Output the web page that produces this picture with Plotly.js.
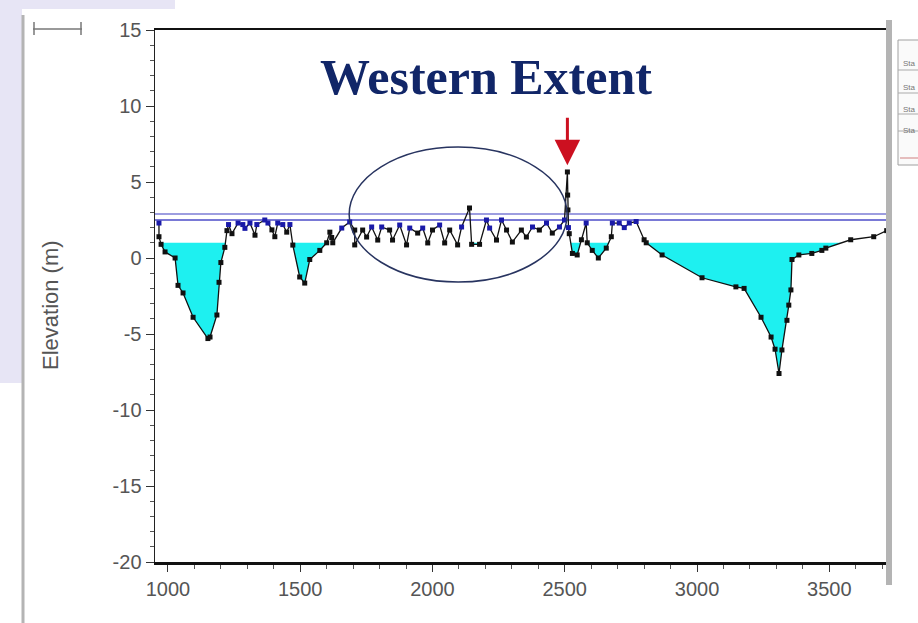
<!DOCTYPE html>
<html>
<head>
<meta charset="utf-8">
<script src="https://cdn.plot.ly/plotly-3.0.1.min.js"></script>
<style>
html,body{margin:0;padding:0;background:#fff;}
#chart{width:918px;height:623px;}
</style>
</head>
<body>
<div id="chart"></div>
<script>
// Station (m) along the profile
const station = [966,966,974,989,1027,1038,1057,1095,1151,1159,1185,1193,1200,1215,1223,1229,1242,1265,1283,1291,1310,1329,1336,1366,1378,1393,1404,1415,1434,1449,1461,1472,1498,1517,1536,1574,1600,1612,1619,1623,1657,1687,1706,1706,1736,1751,1770,1793,1808,1838,1849,1876,1902,1914,1944,1963,1982,2000,2027,2046,2065,2095,2110,2140,2148,2178,2204,2216,2242,2261,2280,2302,2336,2355,2378,2404,2431,2453,2480,2499,2510,2511,2512,2514,2517,2529,2547,2563,2581,2585,2604,2627,2657,2676,2680,2706,2725,2744,2770,2800,2808,2868,3019,3147,3178,3242,3280,3295,3310,3321,3340,3347,3355,3359,3385,3434,3472,3487,3581,3668,3717];
// Elevation (m) of the ground profile
const elevation = [2.3,1.4,0.9,0.4,0.0,-1.8,-2.3,-3.9,-5.3,-5.2,-3.75,-1.6,-0.3,0.7,1.8,2.2,1.6,2.3,2.2,1.95,2.3,1.5,2.2,2.5,2.3,1.85,1.4,2.3,2.2,1.7,2.2,0.85,-1.25,-1.65,-0.1,0.5,1.0,1.7,1.35,1.0,1.97,2.37,1.84,0.86,1.84,1.38,2.04,1.18,2.04,1.84,1.18,2.17,0.86,1.97,1.64,1.97,0.99,1.84,2.17,0.99,1.84,0.86,2.04,3.29,0.9,0.9,2.5,1.97,1.18,2.5,1.84,1.05,1.84,1.38,2.04,1.84,2.3,1.64,2.04,2.5,5.66,4.14,3.16,2.0,1.6,0.3,0.2,1.2,2.3,1.0,0.5,0.0,0.65,1.4,2.3,2.3,2.0,2.3,2.4,1.2,1.0,0.2,-1.3,-1.9,-2.0,-3.9,-5.2,-6.0,-7.6,-6.05,-4.1,-3.1,-2.1,-0.1,0.2,0.3,0.5,0.65,1.2,1.4,1.8];
// Water surface and reference levels
const waterLevel = 1.0;
const refLevels = [2.9, 2.5];
const xTicks = [1000,1500,2000,2500,3000,3500];
const yTicks = [15,10,5,0,-5,-10,-15,-20];

// Build water fill: insert crossing points, clip profile at water level
const fx = [], fy = [];
for (let i = 0; i < station.length; i++) {
  if (i > 0) {
    const y0 = elevation[i-1], y1 = elevation[i];
    if ((y0 - waterLevel) * (y1 - waterLevel) < 0) {
      const t = (waterLevel - y0) / (y1 - y0);
      fx.push(station[i-1] + t * (station[i] - station[i-1]));
      fy.push(waterLevel);
    }
  }
  fx.push(station[i]);
  fy.push(Math.min(elevation[i], waterLevel));
}
const xMin = 951, xMax = 3722;

const traces = [
  {x: fx, y: fx.map(() => waterLevel), mode: 'lines', line: {width: 0}, hoverinfo: 'skip', showlegend: false},
  {x: fx, y: fy, mode: 'lines', line: {width: 0}, fill: 'tonexty', fillcolor: '#1ef0f0', hoverinfo: 'skip', showlegend: false},
  {x: [xMin, xMax], y: [refLevels[0], refLevels[0]], mode: 'lines', line: {color: '#7c7cd6', width: 1.5}, showlegend: false},
  {x: [xMin, xMax], y: [refLevels[1], refLevels[1]], mode: 'lines', line: {color: '#4d4dc8', width: 1.5}, showlegend: false},
  {x: station, y: elevation, mode: 'lines+markers',
   line: {color: '#111', width: 1.3},
   marker: {symbol: 'square', size: 5, color: elevation.map(v => v >= 1.95 && v < 3 ? '#1a1aa8' : '#111')},
   showlegend: false}
];

const L = 155, R = 888, T = 30, B = 562;
const px = v => (v - L) / (R - L);
const py = v => (B - v) / (B - T);

const layout = {
  width: 918, height: 623,
  margin: {l: L, r: 918 - R, t: T, b: 623 - B},
  paper_bgcolor: '#ffffff', plot_bgcolor: '#ffffff',
  font: {family: 'Liberation Sans, Arial, sans-serif', color: '#505050', size: 20},
  xaxis: {
    range: [xMin, xMax], tickvals: xTicks, ticktext: xTicks.map(String),
    showgrid: false, zeroline: false, showline: true, linecolor: '#111', linewidth: 2.5, mirror: true,
    ticks: 'outside', ticklen: 7, tickcolor: '#333', tickwidth: 1,
    minor: {dtick: 100, tick0: 0, ticks: 'outside', ticklen: 4, tickcolor: '#555'},
    tickfont: {size: 20, color: '#555'}
  },
  yaxis: {
    range: [-20, 15], tickvals: yTicks, ticktext: yTicks.map(String),
    showgrid: false, zeroline: false, showline: true, linecolor: '#222', linewidth: 1.5,
    ticks: 'outside', ticklen: 8, tickcolor: '#333', tickwidth: 1,
    minor: {dtick: 1, tick0: 0, ticks: 'outside', ticklen: 4, tickcolor: '#555'},
    tickfont: {size: 20, color: '#555'}
  },
  shapes: [
    // slide background bits
    {type: 'rect', xref: 'paper', yref: 'paper', x0: px(0), x1: px(175), y0: py(0), y1: py(9), fillcolor: '#e7e5f5', line: {width: 0}, layer: 'below'},
    {type: 'rect', xref: 'paper', yref: 'paper', x0: px(0), x1: px(22), y0: py(0), y1: py(383), fillcolor: '#e7e5f5', line: {width: 0}, layer: 'below'},
    {type: 'line', xref: 'paper', yref: 'paper', x0: px(23), x1: px(23), y0: py(15), y1: py(623), line: {color: '#b4b4b4', width: 3}},
    // small scale bar top-left
    {type: 'line', xref: 'paper', yref: 'paper', x0: px(33), x1: px(82), y0: py(29), y1: py(29), line: {color: '#777', width: 1.5}},
    {type: 'line', xref: 'paper', yref: 'paper', x0: px(34), x1: px(34), y0: py(22), y1: py(35), line: {color: '#777', width: 1.5}},
    {type: 'line', xref: 'paper', yref: 'paper', x0: px(81), x1: px(81), y0: py(22), y1: py(35), line: {color: '#777', width: 1.5}},
    // right-hand gray frame and partial legend box
    {type: 'rect', xref: 'paper', yref: 'paper', x0: px(886), x1: px(892), y0: py(20), y1: py(585), fillcolor: '#b4b4b4', line: {width: 0}},
    {type: 'rect', xref: 'paper', yref: 'paper', x0: px(898), x1: px(925), y0: py(40), y1: py(165), fillcolor: '#fafafa', line: {color: '#a0a0a0', width: 1}},
    {type: 'line', xref: 'paper', yref: 'paper', x0: px(898), x1: px(925), y0: py(70), y1: py(70), line: {color: '#aaa', width: 1}},
    {type: 'line', xref: 'paper', yref: 'paper', x0: px(898), x1: px(925), y0: py(93), y1: py(93), line: {color: '#aaa', width: 1}},
    {type: 'line', xref: 'paper', yref: 'paper', x0: px(898), x1: px(925), y0: py(114), y1: py(114), line: {color: '#aaa', width: 1}},
    {type: 'line', xref: 'paper', yref: 'paper', x0: px(898), x1: px(925), y0: py(131), y1: py(131), line: {color: '#aaa', width: 1}},
    {type: 'line', xref: 'paper', yref: 'paper', x0: px(900), x1: px(925), y0: py(158), y1: py(158), line: {color: '#d08080', width: 1}},
    // ellipse around the western extent
    {type: 'circle', xref: 'x', yref: 'y', x0: 1685, x1: 2509, y0: -1.58, y1: 7.3, line: {color: '#283460', width: 1.5}}
  ],
  annotations: [
    {xref: 'paper', yref: 'paper', x: px(486), y: py(77), text: '<b>Western Extent</b>', showarrow: false,
     font: {family: 'Liberation Serif, Times New Roman, serif', size: 50, color: '#112668'}, xanchor: 'center', yanchor: 'middle'},
    {xref: 'x', yref: 'y', x: 2510, y: 6.1, ax: 0, ay: -49, text: '', showarrow: true,
     arrowhead: 2, arrowsize: 1.7, arrowwidth: 3, arrowcolor: '#cc1020'},
    {xref: 'paper', yref: 'paper', x: px(50), y: py(305), text: 'Elevation (m)', showarrow: false, textangle: -90,
     font: {family: 'Liberation Sans, Arial, sans-serif', size: 22, color: '#555'}, xanchor: 'center', yanchor: 'middle'},
    {xref: 'paper', yref: 'paper', x: px(901), y: py(57), text: 'Sta', showarrow: false, xanchor: 'left', font: {size: 8, color: '#777'}},
    {xref: 'paper', yref: 'paper', x: px(901), y: py(81), text: 'Sta', showarrow: false, xanchor: 'left', font: {size: 8, color: '#777'}},
    {xref: 'paper', yref: 'paper', x: px(901), y: py(103), text: 'Sta', showarrow: false, xanchor: 'left', font: {size: 8, color: '#777'}},
    {xref: 'paper', yref: 'paper', x: px(901), y: py(124), text: 'Sta', showarrow: false, xanchor: 'left', font: {size: 8, color: '#777'}}
  ]
};

Plotly.newPlot('chart', traces, layout, {displayModeBar: false, staticPlot: true});
</script>
</body>
</html>
